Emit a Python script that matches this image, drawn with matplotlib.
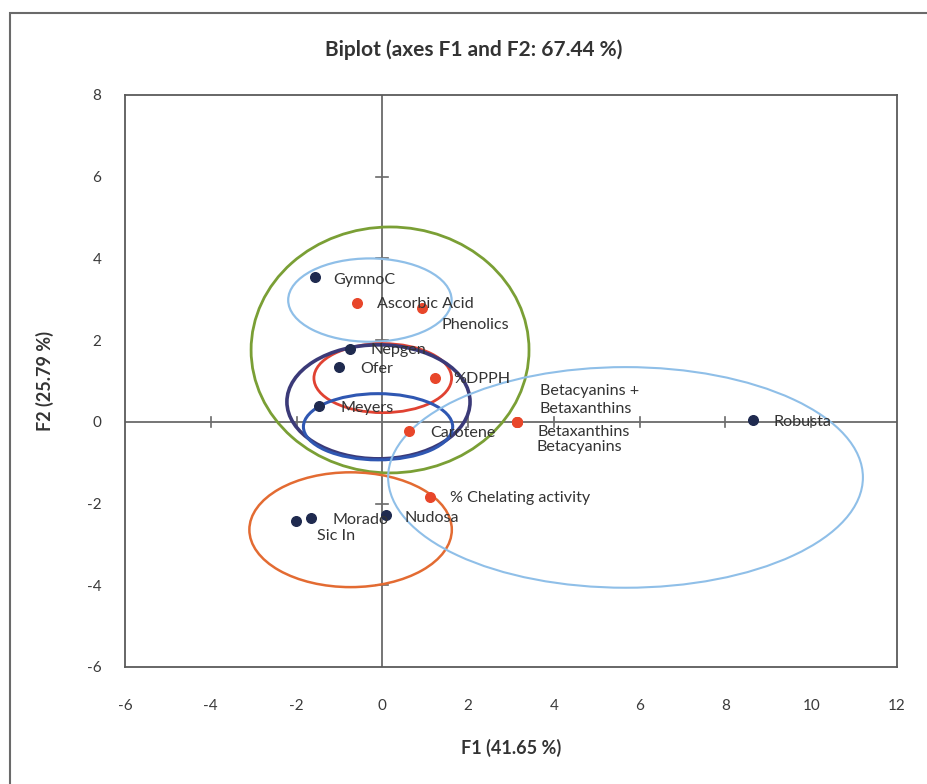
import matplotlib
matplotlib.use("Agg")
import matplotlib.pyplot as plt
from matplotlib.patches import Ellipse, Rectangle

plt.rcParams['font.family'] = ['Lato', 'DejaVu Sans']
plt.rcParams['axes.unicode_minus'] = False

# Observations (cultivars)
obs_names = ["GymnoC", "Nepgen", "Ofer", "Meyers", "Robusta", "Nudosa", "Morado", "Sic In"]
obs_x = [-1.58, -0.75, -1.00, -1.47, 8.65, 0.08, -1.66, -2.01]
obs_y = [3.54, 1.79, 1.34, 0.40, 0.05, -2.28, -2.36, -2.42]

# Variables
var_names = ["Ascorbic Acid", "Phenolics", "%DPPH", "Carotene",
             "Betacyanins +\nBetaxanthins", "Betaxanthins", "Betacyanins",
             "% Chelating activity"]
var_x = [-0.58, 0.93, 1.22, 0.62, 3.13, 3.13, 3.13, 1.10]
var_y = [2.92, 2.78, 1.08, -0.22, 0.00, 0.00, 0.00, -1.83]

# Grouping ellipses: centre, width, height
ell_cx = [0.18, -0.29, 0.01, -0.09, -0.10, -0.74, 5.67]
ell_cy = [1.76, 2.98, 1.07, 0.49, -0.12, -2.64, -1.36]
ell_w = [6.48, 3.81, 3.21, 4.27, 3.48, 4.72, 11.07]
ell_h = [6.02, 2.04, 1.69, 2.79, 1.62, 2.81, 5.40]
ell_colors = ["#7a9f35", "#8fbfe8", "#e04232", "#3b3a78", "#2f57b2", "#e36b32", "#8fbfe8"]
ell_lw = [2.0, 1.6, 2.0, 2.6, 2.2, 1.8, 1.5]

# label offsets in pixels (dx, dy)
obs_off = [(19, -3), (20, -1), (21, -2), (21, -2), (20, -2), (19, -3), (21, -2), (21, -15)]
var_off = [(20, -1), (19, -17), (19, -1), (21, -2), (23, 22), (21, -10), (20, -25), (20, -1)]

fig = plt.figure(figsize=(9.27, 7.84), dpi=100)
fig.patch.set_facecolor("white")

# outer chart border
fig.add_artist(Rectangle((10 / 927, -0.05), 1.0, 1 - 13 / 784 + 0.05,
                         transform=fig.transFigure, fill=False,
                         edgecolor="#6a6a6a", linewidth=1.5))

ax = fig.add_axes([125 / 927, 1 - 667 / 784, (897 - 125) / 927, (667 - 95) / 784])
ax.set_xlim(-6, 12)
ax.set_ylim(-6, 8)
ax.set_xticks(range(-6, 13, 2))
ax.set_yticks(range(-6, 9, 2))
ax.tick_params(length=0, labelsize=11, labelcolor="#3a3a3a")
ax.tick_params(axis="x", pad=23)
ax.tick_params(axis="y", pad=17)
for s in ax.spines.values():
    s.set_color("#5a5a5a")
    s.set_linewidth(1.3)

# central axes with tick marks
ax.axhline(0, color="#6a6a6a", lw=1.3, zorder=1)
ax.axvline(0, color="#6a6a6a", lw=1.3, zorder=1)
for t in range(-4, 12, 2):
    if t != 0:
        ax.plot([t, t], [-0.12, 0.12], color="#6a6a6a", lw=1.2, zorder=1)
for t in range(-4, 8, 2):
    if t != 0:
        ax.plot([-0.14, 0.14], [t, t], color="#6a6a6a", lw=1.2, zorder=1)

for cx, cy, w, h, c, lw in zip(ell_cx, ell_cy, ell_w, ell_h, ell_colors, ell_lw):
    ax.add_patch(Ellipse((cx, cy), w, h, fill=False, edgecolor=c, linewidth=lw, zorder=2))

ax.scatter(obs_x, obs_y, s=48, color="#1f2a4f", zorder=4)
ax.scatter(var_x, var_y, s=48, color="#e8462a", zorder=4)

for name, x, y, (dx, dy) in zip(obs_names, obs_x, obs_y, obs_off):
    ax.annotate(name, (x, y), xytext=(dx, dy), textcoords="offset pixels",
                ha="left", va="center", fontsize=11.6, color="#333333", zorder=5)
for name, x, y, (dx, dy) in zip(var_names, var_x, var_y, var_off):
    ax.annotate(name, (x, y), xytext=(dx, dy), textcoords="offset pixels",
                ha="left", va="center", fontsize=11.6, color="#333333",
                linespacing=1.4, zorder=5)

fig.text(474 / 927, 1 - 50 / 784, "Biplot (axes F1 and F2: 67.44 %)",
         ha="center", va="center", fontsize=15, fontweight="bold", color="#333333")
fig.text(511 / 927, 1 - 748 / 784, "F1 (41.65 %)", ha="center", va="center",
         fontsize=13, fontweight="bold", color="#333333")
fig.text(45 / 927, 1 - 381 / 784, "F2 (25.79 %)", ha="center", va="center",
         rotation=90, fontsize=13, fontweight="bold", color="#333333")

fig.savefig("out.png", dpi=100)
